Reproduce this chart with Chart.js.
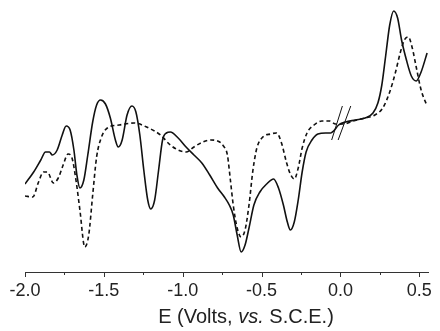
<!DOCTYPE html>
<html>
<head>
<meta charset="utf-8">
<script src="https://cdn.jsdelivr.net/npm/chart.js@4"></script>
<style>
  body { margin: 0; background: #fff; }
  #wrap { position: relative; width: 440px; height: 331px; }
  #xTitle {
    position: absolute; left: 0; width: 492px; top: 305px;
    text-align: center; font: 20px "Liberation Sans", Arial, sans-serif; color: #222;
  }
</style>
</head>
<body>
<div id="wrap">
  <canvas id="cv" width="440" height="331"></canvas>
  <div id="xTitle">E (Volts, <i>vs.</i> S.C.E.)</div>
</div>
<script>
// Potential (V vs. SCE) and current (arb. units)
const solidE = [-2.0, -1.945, -1.90, -1.87, -1.845, -1.827, -1.796, -1.764, -1.739, -1.714,
  -1.69, -1.671, -1.652, -1.627, -1.602, -1.571, -1.546, -1.521, -1.49, -1.459,
  -1.427, -1.409, -1.384, -1.353, -1.322, -1.297, -1.272, -1.247, -1.222, -1.203,
  -1.178, -1.153, -1.128, -1.104, -1.079, -1.029, -0.979, -0.929, -0.879, -0.829,
  -0.779, -0.736, -0.705, -0.68, -0.655, -0.63, -0.605, -0.58, -0.549, -0.511,
  -0.468, -0.424, -0.393, -0.362, -0.337, -0.318, -0.293, -0.268, -0.243, -0.218,
  -0.181, -0.143, -0.094, -0.062, -0.044, -0.012, 0.031, 0.094, 0.156, 0.206,
  0.237, 0.262, 0.287, 0.312, 0.337, 0.362, 0.387, 0.418, 0.449, 0.48, 0.511, 0.549];
const solidI = [8.8, 10.0, 11.2, 12.0, 12.0, 11.7, 12.2, 13.7, 14.6, 14.2,
  12.2, 9.7, 8.4, 9.2, 11.7, 15.0, 16.7, 17.2, 16.8, 15.4,
  13.2, 12.5, 13.2, 15.7, 16.6, 16.0, 13.7, 10.2, 7.2, 6.3,
  7.2, 10.2, 13.2, 13.9, 14.0, 13.4, 12.5, 11.7, 10.9, 9.7,
  8.4, 7.5, 6.7, 5.7, 3.7, 2.0, 2.7, 4.4, 6.7, 8.0,
  8.8, 9.3, 8.4, 6.7, 5.0, 4.2, 5.0, 7.2, 10.0, 12.0,
  13.2, 13.8, 13.9, 13.9, 14.1, 14.7, 15.0, 15.2, 15.4, 15.9,
  16.9, 18.7, 21.7, 24.7, 26.1, 25.4, 23.2, 21.2, 19.6, 19.1, 20.0, 21.9];

const dashE = [-2.0, -1.951, -1.914, -1.883, -1.858, -1.82, -1.789, -1.758, -1.727, -1.702,
  -1.677, -1.652, -1.621, -1.596, -1.571, -1.546, -1.515, -1.478, -1.403, -1.309,
  -1.216, -1.141, -1.079, -1.029, -0.979, -0.929, -0.873, -0.823, -0.779, -0.742,
  -0.717, -0.698, -0.68, -0.655, -0.63, -0.605, -0.58, -0.555, -0.53, -0.492,
  -0.443, -0.405, -0.374, -0.343, -0.318, -0.293, -0.268, -0.243, -0.212, -0.168,
  -0.118, -0.069, -0.031, 0.019, 0.081, 0.156, 0.218, 0.268, 0.312, 0.349,
  0.38, 0.405, 0.43, 0.455, 0.48, 0.511, 0.549];
const dashI = [7.6, 7.5, 9.0, 10.0, 10.0, 8.9, 9.4, 10.7, 11.8, 11.4,
  9.2, 6.2, 2.5, 3.7, 7.7, 11.5, 13.5, 14.4, 14.7, 14.9,
  14.4, 13.7, 12.7, 12.2, 12.0, 12.5, 13.0, 13.2, 13.1, 12.6,
  11.7, 9.2, 6.7, 4.4, 3.5, 4.2, 6.7, 10.2, 12.4, 13.5,
  13.8, 13.9, 12.9, 11.0, 9.8, 9.3, 10.4, 12.4, 13.9, 14.7,
  15.1, 15.1, 14.8, 14.8, 15.1, 15.4, 15.7, 16.4, 18.0, 20.0,
  22.0, 23.2, 23.5, 22.4, 20.5, 18.2, 16.6];

// the "//" axis-break marks on the curves near 0 V
const breakA = [[-0.056, 13.2], [0.012, 16.6]];
const breakB = [[-0.015, 13.2], [0.065, 16.6]];

const tickValues = [-2.0, -1.75, -1.5, -1.25, -1.0, -0.75, -0.5, -0.25, 0.0, 0.25, 0.5];

const toPoints = (xs, ys) => xs.map((x, i) => ({ x: x, y: ys[i] }));
const pairPoints = (arr) => arr.map(p => ({ x: p[0], y: p[1] }));

// tick marks hanging under the axis line, long for labelled ones
const tickMarks = {
  id: 'tickMarks',
  afterDraw(chart) {
    const sx = chart.scales.x;
    const c = chart.ctx;
    const y0 = chart.chartArea.bottom;
    c.save();
    c.strokeStyle = '#333';
    c.lineWidth = 1;
    tickValues.forEach(v => {
      const px = Math.round(sx.getPixelForValue(v)) + 0.5;
      const major = Math.abs(v * 2 - Math.round(v * 2)) < 1e-6;
      c.beginPath();
      c.moveTo(px, y0);
      c.lineTo(px, y0 + (major ? 5 : 3));
      c.stroke();
    });
    c.restore();
  }
};

const lineStyle = { borderColor: '#111', borderWidth: 1.6, pointRadius: 0, fill: false,
  cubicInterpolationMode: 'monotone' };

new Chart(document.getElementById('cv'), {
  type: 'line',
  data: {
    datasets: [
      Object.assign({ label: 'solid', data: toPoints(solidE, solidI) }, lineStyle),
      Object.assign({ label: 'dashed', data: toPoints(dashE, dashI), borderDash: [4, 3] }, lineStyle),
      { label: 'breakA', data: pairPoints(breakA), borderColor: '#111', borderWidth: 1, pointRadius: 0, tension: 0 },
      { label: 'breakB', data: pairPoints(breakB), borderColor: '#111', borderWidth: 1, pointRadius: 0, tension: 0 }
    ]
  },
  options: {
    responsive: false,
    animation: false,
    devicePixelRatio: 1,
    layout: { padding: { left: 25, right: 5, top: 0, bottom: 0 } },
    plugins: { legend: { display: false }, tooltip: { enabled: false } },
    scales: {
      x: {
        type: 'linear',
        min: -2.0,
        max: 0.56,
        afterBuildTicks: (scale) => { scale.ticks = tickValues.map(v => ({ value: v })); },
        afterFit: (scale) => { scale.height = 59; },
        grid: { display: false, drawTicks: false },
        border: { display: true, color: '#333', width: 1 },
        ticks: {
          padding: 8,
          color: '#222',
          maxRotation: 0,
          autoSkip: false,
          font: { family: '"Liberation Sans", Arial, sans-serif', size: 18 },
          callback: (v) => (Math.abs(v * 2 - Math.round(v * 2)) < 1e-6 ? v.toFixed(1) : '')
        }
      },
      y: { display: false, min: 0, max: 27.2 }
    }
  },
  plugins: [tickMarks]
});
</script>
</body>
</html>
